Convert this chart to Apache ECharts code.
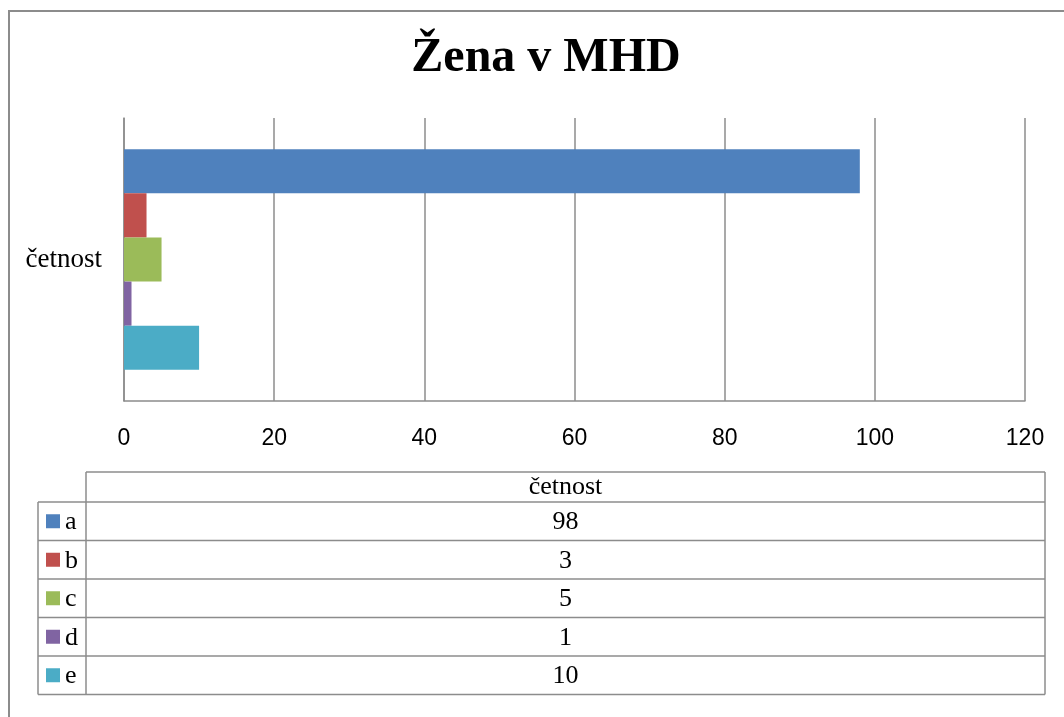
<!DOCTYPE html>
<html>
<head>
<meta charset="utf-8">
<script src="https://cdn.jsdelivr.net/npm/echarts@6/dist/echarts.min.js"></script>
<style>
  html, body { margin: 0; padding: 0; background: #fff; }
  #chart { width: 1064px; height: 717px; }
</style>
</head>
<body>
<div id="chart"></div>
<script>
// data
const categories = ['četnost']
const seriesNames = ['a', 'b', 'c', 'd', 'e']
const seriesValues = [98, 3, 5, 1, 10]
const seriesColors = ['#4F81BD', '#C0504D', '#9BBB59', '#8064A2', '#4BACC6']
const xTicks = [0, 20, 40, 60, 80, 100, 120]

const myChart = echarts.init(document.getElementById('chart'))

// data table under the chart
const tbl = {left: 38, colX: 86, right: 1045, top: 472, headH: 30, rowH: 38.5}
const lineStyle = {stroke: '#8c8c8c', lineWidth: 1.5}
const serifFont = '26px "Liberation Serif"'
const graphic = []
// outer frame
graphic.push({type: 'rect', shape: {x: 9, y: 11, width: 1100, height: 800}, style: {fill: 'none', stroke: '#8c8c8c', lineWidth: 2}, silent: true})
const rowsTop = tbl.top + tbl.headH
const tableBottom = rowsTop + tbl.rowH * seriesNames.length
// header row box
graphic.push({type: 'line', shape: {x1: tbl.colX, y1: tbl.top, x2: tbl.right, y2: tbl.top}, style: lineStyle})
graphic.push({type: 'line', shape: {x1: tbl.colX, y1: tbl.top, x2: tbl.colX, y2: tableBottom}, style: lineStyle})
graphic.push({type: 'line', shape: {x1: tbl.right, y1: tbl.top, x2: tbl.right, y2: tableBottom}, style: lineStyle})
graphic.push({type: 'line', shape: {x1: tbl.left, y1: rowsTop, x2: tbl.left, y2: tableBottom}, style: lineStyle})
graphic.push({
  type: 'text', x: (tbl.colX + tbl.right) / 2, y: tbl.top + tbl.headH / 2,
  style: {text: categories[0], font: serifFont, fill: '#000', align: 'center', verticalAlign: 'middle'}
})
seriesNames.forEach((name, i) => {
  const y = rowsTop + tbl.rowH * i
  graphic.push({type: 'line', shape: {x1: tbl.left, y1: y, x2: tbl.right, y2: y}, style: lineStyle})
  graphic.push({type: 'rect', shape: {x: 46, y: y + tbl.rowH / 2 - 7, width: 14, height: 14}, style: {fill: seriesColors[i]}})
  graphic.push({
    type: 'text', x: 65, y: y + tbl.rowH / 2 + 1,
    style: {text: name, font: serifFont, fill: '#000', verticalAlign: 'middle'}
  })
  graphic.push({
    type: 'text', x: (tbl.colX + tbl.right) / 2, y: y + tbl.rowH / 2 + 1,
    style: {text: String(seriesValues[i]), font: serifFont, fill: '#000', align: 'center', verticalAlign: 'middle'}
  })
})
graphic.push({type: 'line', shape: {x1: tbl.left, y1: tableBottom, x2: tbl.right, y2: tableBottom}, style: lineStyle})

const option = {
  animation: false,
  title: {
    text: 'Žena v MHD',
    left: 541,
    textAlign: 'center',
    top: 30,
    textStyle: {fontFamily: 'Liberation Serif', fontWeight: 'bold', fontSize: 48, color: '#000'}
  },
  grid: {left: 124, right: 39, top: 118, bottom: 316},
  xAxis: {
    type: 'value',
    min: xTicks[0],
    max: xTicks[xTicks.length - 1],
    interval: 20,
    axisLine: {show: true, lineStyle: {color: '#8c8c8c', width: 1.5}},
    axisTick: {show: false},
    splitLine: {show: true, lineStyle: {color: '#8c8c8c', width: 1.5}},
    axisLabel: {color: '#000', fontFamily: 'Liberation Sans', fontSize: 23, margin: 26}
  },
  yAxis: {
    type: 'category',
    data: categories,
    inverse: true,
    axisLine: {show: true, lineStyle: {color: '#8c8c8c', width: 1.5}},
    axisTick: {show: false},
    axisLabel: {color: '#000', fontFamily: 'Liberation Serif', fontSize: 27, margin: 22}
  },
  series: seriesNames.map((name, i) => ({
    name,
    type: 'bar',
    data: [seriesValues[i]],
    barGap: '0%',
    barCategoryGap: '22%',
    itemStyle: {color: seriesColors[i]}
  })),
  graphic
}
option && myChart.setOption(option)
</script>
</body>
</html>
